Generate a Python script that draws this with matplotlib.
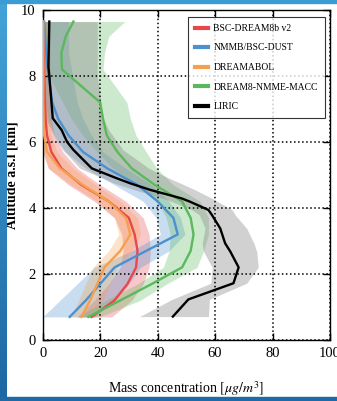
"""Dust mass concentration profiles: four dust models vs LIRIC retrieval."""

import matplotlib
matplotlib.use("Agg")
import matplotlib.pyplot as plt
import numpy as np
from matplotlib.colors import LinearSegmentedColormap
from matplotlib.patches import Rectangle

plt.rcParams["font.family"] = ["Liberation Serif", "DejaVu Serif"]
plt.rcParams["mathtext.fontset"] = "stix"

# model levels (km a.s.l.)
Y_MODEL = [0.7, 1.2, 1.7, 2.2, 2.7, 3.2, 3.7, 4.2, 4.7, 5.2, 5.7, 6.2, 6.7, 7.2, 8.2, 8.7, 9.2, 9.65]

RED_MEAN = [17, 25, 29.5, 32.5, 33, 32, 30, 23, 13.5, 6.5, 3, 1.5, 1, 0.8, 0.5, 0.4, 0.3, 0.2]
RED_LO = [12, 18, 23, 27, 28, 27.5, 25, 18, 9, 2, 0, 0, 0, 0, 0, 0, 0, 0]
RED_HI = [24, 31, 35, 37, 37.5, 37, 35, 29, 20, 12, 7, 4, 3, 3, 2.5, 2.5, 2.5, 2.5]

BLUE_MEAN = [9.4, 15, 20, 25, 36, 47, 45.5, 40, 33, 22.5, 14, 9, 5.4, 3.3, 1.8, 1.2, 0.8, 0.5]
BLUE_LO = [0, 6, 12, 18, 31, 41, 39.5, 35, 25, 15, 8, 4, 2, 1, 0, 0, 0, 0]
BLUE_HI = [18, 25, 30, 34, 44, 49.5, 48, 44, 38, 29, 21, 17, 14, 12, 10, 9, 9, 9]

ORANGE_MEAN = [13.5, 16.5, 19, 21.5, 27, 30.5, 29, 23, 14, 6, 1.5, 0.5, 0.3, 0.2, 0.2, 0.2, 0.2, 0.2]
ORANGE_LO = [10, 12.5, 15, 17.5, 23, 26.5, 25, 19, 10, 2, 0, 0, 0, 0, 0, 0, 0, 0]
ORANGE_HI = [18, 21, 23.5, 26, 31, 34, 33, 27, 18.5, 10.5, 5, 3, 2.5, 2.5, 2.5, 2.5, 2.5, 2.5]

GREEN_MEAN = [15.9, 27, 38, 48.5, 51.5, 52.5, 51.5, 48.5, 39, 31, 26, 22.3, 21, 20, 6.7, 6.5, 8, 10.7]
GREEN_LO = [12, 22, 33, 42, 44, 44.4, 43, 40, 33, 24.5, 19, 14, 10, 7, 1, 0, 0, 0]
GREEN_HI = [20, 33.9, 43.2, 53.7, 56, 57.7, 57.7, 54.8, 45.5, 39.7, 36, 32.5, 30.5, 29.3, 21, 21.5, 23, 28.6]

# LIRIC retrieval
Y_LIRIC = [0.71, 1.23, 1.72, 2.2, 2.68, 2.93, 3.38, 3.79, 3.94, 4.19, 4.29,
           4.55, 4.75, 4.9, 5.2, 5.76, 6.0, 6.36, 6.72, 8.0, 8.28, 9.65]
LIRIC_MEAN = [45.3, 50.7, 66.4, 68.2, 65.3, 63.5, 61.8, 58.9, 57.7, 51.3, 48.4,
              37.4, 30.4, 25.8, 17.1, 10.7, 8.5, 6.6, 3.5, 2.3, 2.0, 2.3]
LIRIC_LO = [33.7, 45, 58.5, 59, 56, 55.5, 56.5, 54.5, 52, 45, 42,
            32, 25, 21, 13, 7, 5, 3, 1, 0, 0, 0]
LIRIC_HI = [57.7, 58, 71, 75, 74.5, 73.5, 71, 67, 66, 61, 59,
            53, 48, 44, 37, 28, 26, 23, 21, 19, 19, 19]

SERIES = [
    ("BSC-DREAM8b v2", "#e8484c", RED_MEAN, RED_LO, RED_HI),
    ("NMMB/BSC-DUST", "#4b90cf", BLUE_MEAN, BLUE_LO, BLUE_HI),
    ("DREAMABOL", "#f6a04d", ORANGE_MEAN, ORANGE_LO, ORANGE_HI),
    ("DREAM8-NMME-MACC", "#5cb85c", GREEN_MEAN, GREEN_LO, GREEN_HI),
]

W, H = 337, 401
fig = plt.figure(figsize=(W / 100, H / 100), dpi=100)
ax = fig.add_axes([42.7 / W, 61 / H, (330 - 42.7) / W, (340 - 10) / H])

for label, color, mean_, lo, hi in SERIES:
    ax.fill_betweenx(Y_MODEL, lo, hi, color=color, alpha=0.3, linewidth=0, zorder=1)
ax.fill_betweenx(Y_LIRIC, LIRIC_LO, LIRIC_HI, color="#8c8c8c", alpha=0.4, linewidth=0, zorder=1)

for label, color, mean_, lo, hi in SERIES:
    ax.plot(mean_, Y_MODEL, color=color, lw=1.7, label=label, zorder=3)
ax.plot(LIRIC_MEAN, Y_LIRIC, color="black", lw=1.7, label="LIRIC", zorder=3)

ax.set_xlim(0, 100)
ax.set_ylim(0, 10)
ax.set_xticks([0, 20, 40, 60, 80, 100])
ax.set_yticks([0, 2, 4, 6, 8, 10])
ax.grid(True, linestyle=":", color="black", linewidth=1.1, zorder=2.5)
ax.tick_params(direction="in", top=True, right=True, length=5, width=1,
               labelsize=10.5, pad=5)
for sp in ax.spines.values():
    sp.set_linewidth(1.0)

ax.set_ylabel("Altitude a.s.l [km]", fontsize=10, fontweight="bold")
ax.yaxis.set_label_coords((19 - 42.7) / (330 - 42.7), 0.5)
ax.set_xlabel(r"Mass concentration $[\mu g/m^3]$", fontsize=10, labelpad=14)

leg = ax.legend(loc="upper right", bbox_to_anchor=(325 / W, (H - 16.7) / H),
                bbox_transform=fig.transFigure, borderaxespad=0, fontsize=6.9,
                frameon=True, fancybox=False, edgecolor="black",
                handlelength=1.3, handletextpad=0.6, labelspacing=1.1,
                borderpad=0.75)
leg.get_frame().set_linewidth(0.8)
for line in leg.get_lines():
    line.set_linewidth(3)

# blue slide frame around the picture
bax = fig.add_axes([0, 0, 7 / W, 1])
cmap = LinearSegmentedColormap.from_list("frame", ["#43a3d8", "#1d67a3"])
bax.imshow(np.linspace(0, 1, 200).reshape(-1, 1), cmap=cmap, aspect="auto")
bax.set_axis_off()
fig.add_artist(Rectangle((0, 1 - 3 / H), 1, 3 / H, transform=fig.transFigure,
                         color="#3b9bd3", zorder=10))
fig.add_artist(Rectangle((0, 0), 1, 4.5 / H, transform=fig.transFigure,
                         color="#1f6aa6", zorder=10))

fig.savefig("out.png", dpi=100)
